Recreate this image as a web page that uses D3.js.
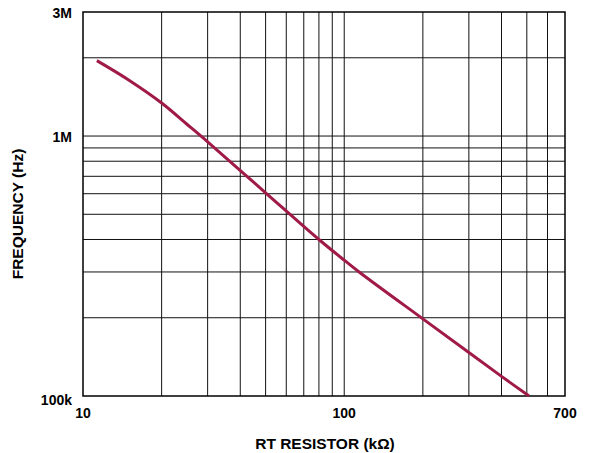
<!DOCTYPE html>
<html><head><meta charset="utf-8">
<script src="https://cdn.jsdelivr.net/npm/d3@7/dist/d3.min.js"></script>
<style>
body{margin:0;background:#fff;}
text{font-family:"Liberation Sans",Arial,sans-serif;font-weight:bold;fill:#000;}
</style></head>
<body><svg id="c" width="589" height="453"></svg>
<script>
// data (R in kΩ, frequency in Hz)
const resistance = [11.3, 15, 20, 25, 30, 50, 80, 100, 115, 200, 300, 400, 510];
const frequency  = [1950000, 1640000, 1340000, 1110000, 950000, 605000, 400000, 333000, 298000, 198000, 147000, 119000, 100000];
const xTickValues = [10, 100, 700];
const xTickLabels = ["10", "100", "700"];
const yTickValues = [100000, 1000000, 3000000];
const yTickLabels = ["100k", "1M", "3M"];
const xGrid = [20,30,40,50,60,70,80,90,100,200,300,400,500,600];
const yGrid = [200000,300000,400000,500000,600000,700000,800000,900000,1000000,2000000];
const xTitle = "RT RESISTOR (kΩ)";
const yTitle = "FREQUENCY (Hz)";

const svg = d3.select("#c");
const L = 83, R = 565, T = 12, B = 396;
const x = d3.scaleLog().domain([10, 700]).range([L, R]);
const y = d3.scaleLog().domain([100000, 3000000]).range([B, T]);

const g = svg.append("g");
g.selectAll("line.vx").data(xGrid).enter().append("line")
  .attr("x1", d => x(d)).attr("x2", d => x(d)).attr("y1", T).attr("y2", B)
  .attr("stroke", "#111").attr("stroke-width", 1);
g.selectAll("line.hy").data(yGrid).enter().append("line")
  .attr("y1", d => y(d)).attr("y2", d => y(d)).attr("x1", L).attr("x2", R)
  .attr("stroke", "#111").attr("stroke-width", 1);

g.append("rect").attr("x", L).attr("y", T).attr("width", R - L).attr("height", B - T)
  .attr("fill", "none").attr("stroke", "#000").attr("stroke-width", 1.5);

const pts = resistance.map((r, i) => [r, frequency[i]]);
const line = d3.line().x(d => x(d[0])).y(d => y(d[1])).curve(d3.curveCatmullRom.alpha(0.5));
g.append("path").datum(pts).attr("d", line)
  .attr("fill", "none").attr("stroke", "#A01A48").attr("stroke-width", 3);

// tick labels
svg.selectAll("text.xt").data(xTickValues).enter().append("text")
  .attr("x", d => x(d)).attr("y", 418).attr("text-anchor", "middle")
  .attr("font-size", 14).text((d, i) => xTickLabels[i]);
svg.selectAll("text.yt").data(yTickValues).enter().append("text")
  .attr("x", 72).attr("y", d => y(d) + (d === 100000 ? 9 : 6)).attr("text-anchor", "end")
  .attr("font-size", 14).text((d, i) => yTickLabels[i]);

svg.append("text").attr("x", 325).attr("y", 449).attr("text-anchor", "middle")
  .attr("font-size", 15.5).text(xTitle);
svg.append("text").attr("transform", "translate(23,214) rotate(-90)")
  .attr("text-anchor", "middle").attr("font-size", 15.5).text(yTitle);
</script></body></html>
